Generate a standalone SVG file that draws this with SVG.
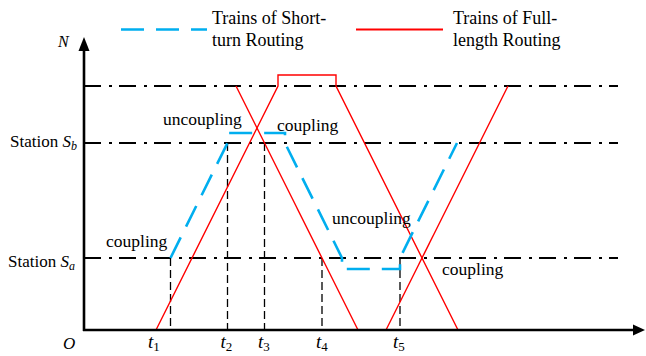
<svg xmlns="http://www.w3.org/2000/svg" width="646" height="356" viewBox="0 0 646 356">
<style>
text{font-family:"Liberation Serif","Times New Roman",serif;fill:#000}
.lbl{font-size:17.5px}
.leg{font-size:18px}
.it{font-style:italic}
.tl{font-size:19px}
.sub{font-size:13px;font-style:normal}
.dd{stroke:#000;stroke-width:2;stroke-dasharray:17 8 3 7;fill:none}
.vd{stroke:#000;stroke-width:1.3;stroke-dasharray:8 4;fill:none}
.red{stroke:#ff0000;stroke-width:1.4;fill:none;stroke-linejoin:miter}
.blue{stroke:#00aeef;stroke-width:2.6;fill:none;stroke-dasharray:23 12}
.axis{stroke:#000;stroke-width:2.6;fill:none}
</style>
<rect width="646" height="356" fill="#fff"/>
<g id="legend">
<line x1="121" y1="29.5" x2="207" y2="29.5" class="blue"/>
<text class="leg" x="212" y="24">Trains of Short-</text>
<text class="leg" x="212" y="46">turn Routing</text>
<line x1="356" y1="29.5" x2="443" y2="29.5" stroke="#ff0000" stroke-width="2"/>
<text class="leg" x="453" y="24">Trains of Full-</text>
<text class="leg" x="453" y="46">length Routing</text>
</g>
<g id="station-lines">
<line x1="84" y1="86" x2="618" y2="86" class="dd"/>
<line x1="84" y1="143" x2="618" y2="143" class="dd"/>
<line x1="84" y1="258" x2="618" y2="258" class="dd"/>
</g>
<g id="time-markers">
<line x1="170.5" y1="258" x2="170.5" y2="330" class="vd"/>
<line x1="227.5" y1="143" x2="227.5" y2="330" class="vd"/>
<line x1="264.5" y1="143" x2="264.5" y2="330" class="vd"/>
<line x1="322" y1="258" x2="322" y2="330" class="vd"/>
<line x1="400" y1="258" x2="400" y2="330" class="vd"/>
</g>
<g id="connectors">
<g id="full-length-trains">
<polyline class="red" points="156,330 278,86 278,75 336,75 336,86 458,330"/>
<line class="red" x1="236" y1="86" x2="358" y2="330"/>
<line class="red" x1="386" y1="330" x2="508" y2="86"/>
</g>
<g id="short-turn-trains">
<polyline class="blue" points="170.5,258 227.5,143 227.5,133 285,133 285,143 342,258 342,269 400,269 400,258 457,143"/>
</g>
</g>
<g id="axes">
<line x1="84" y1="331" x2="84" y2="48" class="axis"/>
<line x1="83" y1="330" x2="636" y2="330" class="axis"/>
<polygon points="84,37 78.5,51 89.5,51" fill="#000"/>
<polygon points="645,330 633,324.5 633,335.5" fill="#000"/>
</g>
<g id="axis-labels">
<text class="it" x="58" y="47" style="font-size:16px">N</text>
<text class="it" x="63" y="349" style="font-size:17px">O</text>
<text style="font-size:17px" x="10" y="147">Station <tspan class="it">S</tspan><tspan class="it" style="font-size:12px" dy="3">b</tspan></text>
<text style="font-size:17px" x="8" y="267">Station <tspan class="it">S</tspan><tspan class="it" style="font-size:12px" dy="3">a</tspan></text>
<text class="tl" x="148" y="348"><tspan class="it">t</tspan><tspan class="sub" dy="3">1</tspan></text>
<text class="tl" x="220.5" y="348"><tspan class="it">t</tspan><tspan class="sub" dy="3">2</tspan></text>
<text class="tl" x="258" y="348"><tspan class="it">t</tspan><tspan class="sub" dy="3">3</tspan></text>
<text class="tl" x="316" y="348"><tspan class="it">t</tspan><tspan class="sub" dy="3">4</tspan></text>
<text class="tl" x="393" y="348"><tspan class="it">t</tspan><tspan class="sub" dy="3">5</tspan></text>
</g>
<g id="event-labels">
<text class="lbl" x="163" y="125">uncoupling</text>
<text class="lbl" x="277" y="131">coupling</text>
<text class="lbl" x="106" y="247">coupling</text>
<text class="lbl" x="332" y="224">uncoupling</text>
<text class="lbl" x="442" y="275">coupling</text>
</g>
</svg>
